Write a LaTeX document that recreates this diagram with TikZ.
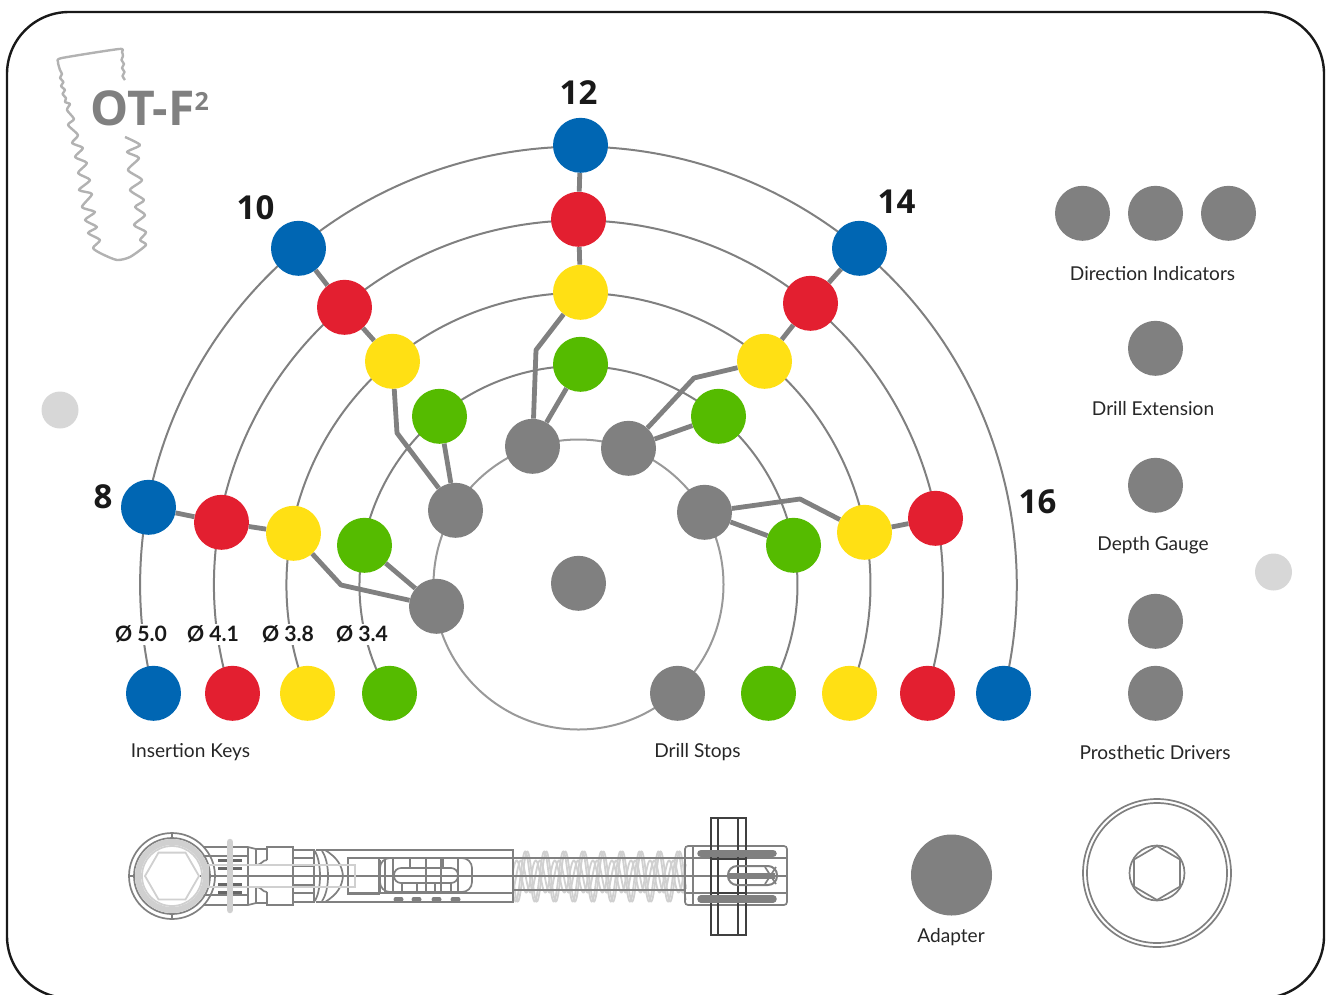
\documentclass[tikz,border=0pt]{standalone}
\usepackage{fontspec}
\setmainfont{Lato}
\newfontfamily\headfont{Open Sans}
\definecolor{cblue}{HTML}{0066B3}
\definecolor{cred}{HTML}{E31F30}
\definecolor{cyel}{HTML}{FFE014}
\definecolor{cgrn}{HTML}{55BB00}
\definecolor{cgry}{HTML}{808080}
\definecolor{clite}{HTML}{D0D0D0}
\definecolor{cmid}{HTML}{999999}
\tikzset{
 dot/.style={circle,inner sep=0pt,minimum size=55pt,fill=#1,xshift=0.5pt,yshift=-0.3pt},
 arcline/.style={draw=cgry,line width=2pt},
 link/.style={draw=cgry,line width=4.8pt,line join=round},
 caption/.style={font=\fontsize{19.1}{23}\selectfont,text=black!85,inner sep=0pt},
 dia/.style={font=\fontsize{21.2}{26}\selectfont\bfseries,text=black!90,fill=white,inner sep=2pt},
 num/.style={font=\fontsize{33}{38}\headfont\bfseries,text=black!90,inner sep=0pt},
 tl/.style={draw=cgry,line width=1.7pt},
 ll/.style={draw=clite,line width=1.8pt},
}
\begin{document}
\begin{tikzpicture}[x=1pt,y=-1pt]
\useasboundingbox (0,0) rectangle (1330,994);
\clip (0,0) rectangle (1330,994);
\draw[line width=2.4pt,black!90,rounded corners=62pt] (7,12) rectangle (1324,998);
\coordinate (c) at (578.5,585);
% arcs
\draw[arcline] (c) ++(165.74:438.3) arc[start angle=194.26,end angle=-14.26,radius=438.3pt];
\draw[arcline] (c) ++(162.8:364.5) arc[start angle=197.2,end angle=-17.2,radius=364.5pt];
\draw[arcline] (c) ++(158.3:292) arc[start angle=201.7,end angle=-21.7,radius=292pt];
\draw[arcline] (c) ++(150.4:219) arc[start angle=209.6,end angle=-29.6,radius=219pt];
\draw[draw=cmid,line width=2pt] (578.5,584.5) circle[radius=145pt];
% nodes
\node[dot=cblue] (b8) at (148,507) {};
\node[dot=cblue] (b10) at (298,248) {};
\node[dot=cblue] (b12) at (580,145) {};
\node[dot=cblue] (b14) at (859,248) {};
\node[dot=cblue] (b16) at (1003,693) {};
\node[dot=cblue] (kb) at (153,693) {};
\node[dot=cred] (r8) at (221,522) {};
\node[dot=cred] (r10) at (344,307) {};
\node[dot=cred] (r12) at (578,219) {};
\node[dot=cred] (r14) at (810,303) {};
\node[dot=cred] (r16) at (935,518) {};
\node[dot=cred] (kr) at (232,693) {};
\node[dot=cred] (sr) at (927,693) {};
\node[dot=cyel] (y8) at (293,533) {};
\node[dot=cyel] (y10) at (392,361) {};
\node[dot=cyel] (y12) at (580,292) {};
\node[dot=cyel] (y14) at (764,361) {};
\node[dot=cyel] (y16) at (864,532) {};
\node[dot=cyel] (ky) at (307,693) {};
\node[dot=cyel] (sy) at (849,693) {};
\node[dot=cgrn] (g8) at (364,545) {};
\node[dot=cgrn] (g10) at (439,416) {};
\node[dot=cgrn] (g12) at (580,364) {};
\node[dot=cgrn] (g14) at (718,416) {};
\node[dot=cgrn] (g16) at (793,545) {};
\node[dot=cgrn] (kg) at (389,693) {};
\node[dot=cgrn] (sg) at (768,693) {};
\node[dot=cgry] (h8) at (436,606) {};
\node[dot=cgry] (h10) at (455,510) {};
\node[dot=cgry] (h12) at (532,446) {};
\node[dot=cgry] (h14) at (628,448) {};
\node[dot=cgry] (h16) at (704,512) {};
\node[dot=cgry] (hc) at (578,583) {};
\node[dot=cgry] (sh) at (677,693) {};
\node[dot=cgry] (d1) at (1082,213) {};
\node[dot=cgry] (d2) at (1155,213) {};
\node[dot=cgry] (d3) at (1228,213) {};
\node[dot=cgry] (de) at (1155,348) {};
\node[dot=cgry] (dg) at (1155,485) {};
\node[dot=cgry] (p1) at (1155,621) {};
\node[dot=cgry] (p2) at (1155,693) {};
\node[circle,inner sep=0pt,minimum size=81pt,fill=cgry] (ad) at (951.5,875) {};
\node[circle,inner sep=0pt,minimum size=37pt,fill=clite!85!white] (l1) at (60,410) {};
\node[circle,inner sep=0pt,minimum size=37pt,fill=clite!85!white] (l2) at (1273.5,572) {};
% links
\draw[link] (b8) -- (r8);
\draw[link] (r8) -- (y8);
\draw[link] (y8) -- (341,585) -- (h8);
\draw[link] (g8) -- (h8);
\draw[link] (b10) -- (r10);
\draw[link] (r10) -- (y10);
\draw[link] (y10) -- (397,433) -- (h10);
\draw[link] (g10) -- (h10);
\draw[link] (b12) -- (r12);
\draw[link] (r12) -- (y12);
\draw[link] (y12) -- (536,350) -- (h12);
\draw[link] (g12) -- (h12);
\draw[link] (b14) -- (r14);
\draw[link] (r14) -- (y14);
\draw[link] (y14) -- (694,378) -- (h14);
\draw[link] (g14) -- (h14);
\draw[link] (r16) -- (y16);
\draw[link] (y16) -- (800,499) -- (h16);
\draw[link] (g16) -- (h16);
% texts
\node[num] (t12) at (578.5,93) {12};
\node[num] (t10) at (255.5,208) {10};
\node[num] (t14) at (896.5,202) {14};
\node[num] (t8) at (103,497) {8};
\node[num] (t16) at (1037.5,501.5) {16};
\node[dia] (o1) at (141,634.5) {Ø 5.0};
\node[dia] (o2) at (213,634.5) {Ø 4.1};
\node[dia] (o3) at (288,634.5) {Ø 3.8};
\node[dia] (o4) at (362,634.5) {Ø 3.4};
\node[caption] (c1) at (1152.5,273.5) {Direction Indicators};
\node[caption] (c2) at (1153,408.5) {Drill Extension};
\node[caption] (c3) at (1153,545.5) {Depth Gauge};
\node[caption] (c4) at (1155,752.5) {Prosthetic Drivers};
\node[caption] (c5) at (951,937.5) {Adapter};
\node[caption] (c6) at (190.5,752.5) {Insertion Keys};
\node[caption] (c7) at (697.5,752.5) {Drill Stops};
% implant outline
\draw[draw=cmid!75!white,line width=2.4pt,line join=round] plot[smooth,tension=0.4] coordinates {
(125,80)(122.5,76)(124.5,72)(122,68)(124,64)(121.5,60)(123,56)(122,52)(119,49)(62,58)(58,62)(60,70)(62,74)(60,78)(63.5,82)(61,86)(65,90)(62.5,94)(66,98)(65,102)(70,104)(67,110)(74,119)(68,125)(78,135)(72,143)(83,148)(75,157)(87,163)(78,173)(90,180)(79,190)(92,194)(82,207)(95,212)(85,220)(97,227)(88,233)(100,240)(93,248)(102,254)(117,260)(130,257)(146,245)(140,240)(146,232)(134,225)(145,215)(135,207)(144,200)(130,190)(142,180)(128,170)(139,158)(127,152)(140,145)(125,137)};
\node[font=\fontsize{48}{52}\headfont\bfseries,text=cgry,inner sep=0pt,anchor=base west] (logo) at (90,125) {OT-F\raisebox{15pt}{\fontsize{25}{28}\selectfont 2}};
% screw head at lower right
\coordinate (s) at (1157,873);
\draw[tl] (s) circle[radius=74pt];
\draw[tl] (s) circle[radius=70pt];
\draw[tl] (s) circle[radius=27.5pt];
\draw[tl] (1157,846) -- (1180,859.5) -- (1180,886.5) -- (1157,900) -- (1134,886.5) -- (1134,859.5) -- cycle;
% wrench: spring
\draw[ll] plot[smooth,samples=300,domain=513:686] ({\x},{876.5+25*sin(18.9*(\x-513))});
\draw[ll] plot[smooth,samples=300,domain=513:686] ({\x},{876.5+25*sin(18.9*(\x-513)+40)});
\draw[ll] plot[smooth,samples=300,domain=513:686] ({\x},{876.5+16*sin(18.9*(\x-513)+200)});
\draw[ll] plot[smooth,samples=300,domain=513:686] ({\x},{876.5+16*sin(18.9*(\x-513)+120)});
% wrench: head
\coordinate (hd) at (172,876);
\draw[tl] (hd) circle[radius=43pt];
\draw[tl] (172,833) -- (172,838) (172,914) -- (172,919) (129,876) -- (134,876);
\draw[tl] (hd) circle[radius=38pt];
% wrench: body
\draw[tl] (203,847) -- (248,847) -- (256,849) -- (267,849) -- (267,847) -- (293,847) -- (293,905) -- (267,905) -- (267,903) -- (256,903) -- (248,905) -- (203,905);
\draw[tl] (203,856) -- (248,856) (203,895) -- (248,895);
\draw[tl] (248,847) -- (248,905) (256,849) -- (256,865) (256,887) -- (256,903);
\draw[tl] (256,865) .. controls (262,865) and (262,860) .. (267,860) (256,887) .. controls (262,887) and (262,892) .. (267,892);
\draw[tl] (267,847) -- (267,860) (267,892) -- (267,905);
\draw[tl] (293,850) -- (314,850) -- (314,902) -- (293,902);
\draw[tl] (293,858) -- (314,858) (293,866) -- (314,866) (293,885) -- (314,885) (293,893) -- (314,893);
\draw[tl] (314,850) .. controls (322,860) and (322,892) .. (314,902);
\draw[tl] (322,851) .. controls (330,862) and (330,890) .. (322,901);
\draw[tl] (325,850) .. controls (338,858) and (342,866) .. (343,876) .. controls (342,886) and (338,894) .. (325,902);
\draw[tl] (316,850) -- (513,850) -- (513,902) -- (316,902);
\draw[tl] (348,858) -- (513,858) (348,893) -- (513,893);
\draw[tl] (348,858) rectangle (379,894);
\draw[tl,rounded corners=10pt] (380,858) rectangle (472,892);
\draw[tl,rounded corners=7pt] (394,868) rectangle (458,883);
\draw[tl] (380,860) -- (380,892) (385,858) -- (385,892) (393,858) -- (393,892) (426,858) -- (426,892) (441,858) -- (441,892) (458,858) -- (458,892);
\draw[tl] (410,858) -- (410,868) (443,858) -- (443,868) (402,883) -- (402,893) (417,883) -- (417,893) (435,883) -- (435,893) (451,883) -- (451,893);
\draw[cgry,line width=5pt,line cap=round] (396,899) -- (401,899) (414,899) -- (419,899) (434,899) -- (439,899) (453,899) -- (458,899);
\draw[tl] (200,876) -- (513,876);
% dark marks behind the light bar
\draw[cgry!80!black,line width=3pt] (218,860) -- (242,860) (218,868) -- (242,868) (218,884) -- (242,884) (218,892) -- (242,892);
\draw[ll] (208,865) rectangle (355,887);
\draw[line width=6pt,draw=clite] (hd) circle[radius=34pt];
\draw[ll] (hd) circle[radius=30pt];
\draw[ll] (199,876) -- (185.5,899.4) -- (158.5,899.4) -- (145,876) -- (158.5,852.6) -- (185.5,852.6) -- cycle;
\draw[line width=6.5pt,draw=clite,line cap=round] (230,842) -- (230,910);
% wrench: shaft and slots
\draw[tl] (513,858) -- (685,858) (513,876) -- (685,876) (513,890) -- (685,890);
\draw[tl,rounded corners=3pt] (685,846) rectangle (787,905);
\draw[tl] (693,846) -- (693,905) (685,858) -- (787,858) (685,876) -- (787,876) (685,893) -- (787,893);
\draw[line width=2pt,black!75] (711,818) rectangle (746,935) (718,818) -- (718,935) (738,818) -- (738,935);
\draw[line width=2pt,black!75] (711,859) -- (746,859) (711,893) -- (746,893);
\draw[cgry,line width=7.5pt,line cap=round] (701,853.5) -- (773,853.5) (701,899) -- (773,899);
\draw[tl,line width=2pt,rounded corners=9pt] (728,866) rectangle (777,885);
\draw[cgry,line width=5.5pt] (729,876) -- (775,876);
\draw[tl] (765,867) -- (776,884) (776,867) -- (765,884);
\end{tikzpicture}
\end{document}
